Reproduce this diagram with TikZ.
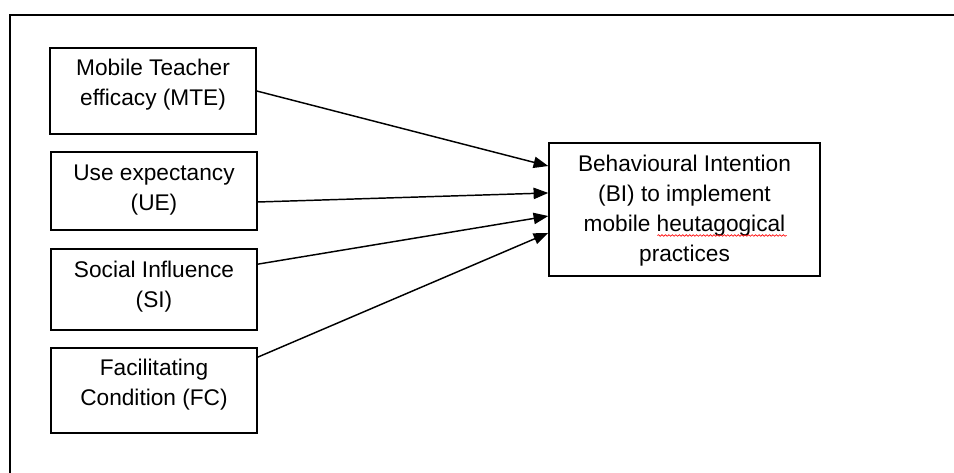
\documentclass[tikz,border=0pt]{standalone}
\usepackage{fontspec}
\setmainfont{Liberation Sans}
\usetikzlibrary{arrows.meta,decorations.pathmorphing}
\begin{document}
\begin{tikzpicture}[x=0.75pt,y=-0.75pt,
  box/.style={draw,line width=1.1pt,rectangle,inner sep=0pt},
  txt/.style={inner sep=0pt,align=center,font=\fontsize{17}{22.5}\selectfont},
  arr/.style={line width=1.1pt,-{Triangle[length=11pt,width=8.5pt]}}]
\useasboundingbox (0,0) rectangle (954,473);
\draw[line width=1.2pt] (10,473) -- (10,15) -- (954,15);
\node[box,minimum width=0.75*206pt,minimum height=0.75*86pt] (MTE) at (153,91) {};
\node[box,minimum width=0.75*206pt,minimum height=0.75*78pt] (UE) at (154,191) {};
\node[box,minimum width=0.75*206pt,minimum height=0.75*81pt] (SI) at (154,289.5) {};
\node[box,minimum width=0.75*206pt,minimum height=0.75*85pt] (FC) at (154,390.5) {};
\node[box,minimum width=0.75*271pt,minimum height=0.75*133pt] (BI) at (684.5,209.5) {};
\node[txt] (MTEt) at ([yshift=4.5pt]MTE.center) {Mobile Teacher\\efficacy (MTE)};
\node[txt] (UEt) at ([yshift=0.75pt]UE.center) {Use expectancy\\(UE)};
\node[txt] (SIt) at ([yshift=1.9pt]SI.center) {Social Influence\\(SI)};
\node[txt] (FCt) at ([yshift=4.1pt]FC.center) {Facilitating\\Condition (FC)};
\node[txt] (BIt) at ([yshift=-0.75pt]BI.center) {Behavioural Intention\\(BI) to implement\\mobile heutagogical\\practices};
\draw[arr] (MTE.east) -- ([yshift=32.6pt]BI.west);
\draw[arr] ([yshift=-8.25pt]UE.east) -- ([yshift=12.4pt]BI.west);
\draw[arr] ([yshift=19pt]SI.east) -- ([yshift=-4.9pt]BI.west);
\draw[arr] ([yshift=25pt]FC.east) -- ([yshift=-17.6pt]BI.west);
\draw[red,line width=0.5pt,decorate,decoration={snake,amplitude=0.6pt,segment length=2.6pt}] ([xshift=-20.3pt,yshift=-19.5pt]BI.center) -- ([xshift=76.5pt,yshift=-19.5pt]BI.center);
\end{tikzpicture}
\end{document}
